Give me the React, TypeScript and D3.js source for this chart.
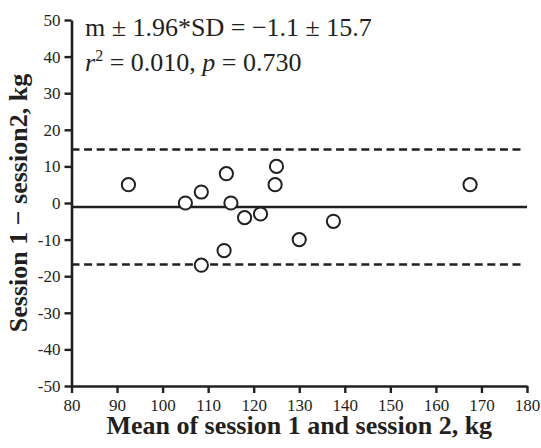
import React, { useEffect, useRef } from 'react';
import * as d3 from 'd3';

// mean of the two sessions (kg) and the difference session 1 - session 2 (kg)
const meanValues = [92.5, 105, 108.5, 114, 115, 118, 121.5, 124.7, 125, 113.5, 108.5, 130, 137.5, 167.5];
const diffValues = [5, 0, 3, 8, 0, -4, -3, 5, 10, -13, -17, -10, -5, 5];

const meanDiff = -1.1;
const limitOfAgreement = 15.7;

const xTicks = [80, 90, 100, 110, 120, 130, 140, 150, 160, 170, 180];
const yTicks = [-50, -40, -30, -20, -10, 0, 10, 20, 30, 40, 50];

const statLine1 = 'm \u00b1 1.96*SD = \u22121.1 \u00b1 15.7';

const width = 541;
const height = 448;
const ink = '#231f20';

export default function App() {
  const ref = useRef<SVGSVGElement>(null);

  useEffect(() => {
    const svg = d3.select(ref.current);
    svg.selectAll('*').remove();

    const margin = { left: 71.5, right: 14, top: 20, bottom: 62 };

    const x = d3.scaleLinear()
      .domain([xTicks[0], xTicks[xTicks.length - 1]])
      .range([margin.left, width - margin.right]);
    const y = d3.scaleLinear()
      .domain([yTicks[0], yTicks[yTicks.length - 1]])
      .range([height - margin.bottom, margin.top]);

    const font = '"Liberation Serif", "Times New Roman", serif';
    const plain = (d: d3.NumberValue) => String(d); // hyphen minus, like the original

    // axes
    const yAxis = svg.append('g')
      .attr('transform', `translate(${margin.left},0)`)
      .call(d3.axisLeft(y).tickValues(yTicks).tickFormat(plain).tickSize(7).tickSizeOuter(0).tickPadding(4));
    const xAxis = svg.append('g')
      .attr('transform', `translate(0,${y(yTicks[0])})`)
      .call(d3.axisBottom(x).tickValues(xTicks).tickFormat(plain).tickSize(7).tickSizeOuter(0).tickPadding(6));

    [xAxis, yAxis].forEach(ax => {
      ax.select('.domain').attr('stroke', ink).attr('stroke-width', 2.6);
      ax.selectAll('.tick line').attr('stroke', ink).attr('stroke-width', 2.4);
      ax.selectAll('.tick text')
        .attr('fill', ink)
        .attr('font-family', font)
        .attr('font-size', 17);
    });

    // bias and limits of agreement
    const [x0, x1] = x.range();
    svg.append('line')
      .attr('x1', x0).attr('x2', x1)
      .attr('y1', y(meanDiff)).attr('y2', y(meanDiff))
      .attr('stroke', ink).attr('stroke-width', 2.6);

    [meanDiff + limitOfAgreement, meanDiff - limitOfAgreement].forEach(v => {
      svg.append('line')
        .attr('x1', x0).attr('x2', x1 - 2)
        .attr('y1', y(v)).attr('y2', y(v))
        .attr('stroke', ink).attr('stroke-width', 2.6)
        .attr('stroke-dasharray', '8,4.6');
    });

    // points
    svg.append('g')
      .selectAll('circle')
      .data(meanValues.map((m, i) => ({ m, d: diffValues[i] })))
      .enter()
      .append('circle')
      .attr('cx', p => x(p.m))
      .attr('cy', p => y(p.d))
      .attr('r', 6.6)
      .attr('fill', 'white')
      .attr('stroke', ink)
      .attr('stroke-width', 2);

    // stats annotation
    svg.append('text')
      .attr('x', 85).attr('y', 35.5)
      .attr('font-family', font).attr('font-size', 26).attr('fill', ink)
      .text(statLine1);

    const t2 = svg.append('text')
      .attr('x', 85).attr('y', 70.5)
      .attr('font-family', font).attr('font-size', 26).attr('fill', ink);
    t2.append('tspan').attr('font-style', 'italic').text('r');
    t2.append('tspan').attr('font-size', 16).attr('dy', -10).text('2');
    t2.append('tspan').attr('dy', 10).text(' = 0.010, ');
    t2.append('tspan').attr('font-style', 'italic').text('p');
    t2.append('tspan').text(' = 0.730');

    // axis titles
    svg.append('text')
      .attr('x', (x0 + x1) / 2).attr('y', 434)
      .attr('text-anchor', 'middle')
      .attr('font-family', font).attr('font-size', 26).attr('font-weight', 'bold').attr('fill', ink)
      .text('Mean of session 1 and session 2, kg');

    svg.append('text')
      .attr('transform', `translate(27,${(y.range()[0] + y.range()[1]) / 2}) rotate(-90)`)
      .attr('text-anchor', 'middle')
      .attr('font-family', font).attr('font-size', 26).attr('font-weight', 'bold').attr('fill', ink)
      .text('Session 1 \u2212 session2, kg');
  }, []);

  return (
    <svg
      ref={ref}
      width={width}
      height={height}
      style={{ position: 'absolute', left: 0, top: 0, background: 'white' }}
    />
  );
}
